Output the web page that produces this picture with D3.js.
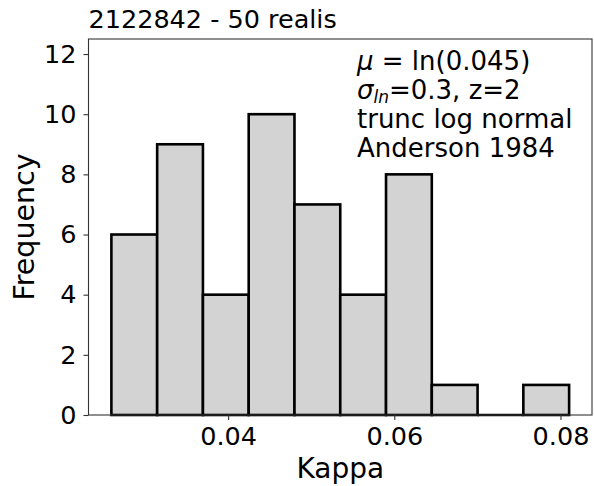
<!DOCTYPE html>
<html>
<head>
<meta charset="utf-8">
<script src="https://cdn.jsdelivr.net/npm/d3@7/dist/d3.min.js"></script>
<style>
  html, body { margin: 0; padding: 0; background: #fff; }
  svg { display: block; font-family: "DejaVu Sans", sans-serif; }
</style>
</head>
<body>
<svg id="chart" width="594" height="486"></svg>
<script>
// ---- data ----
const binStart = 0.02595;
const binWidth = 0.005509;
const counts = [6, 9, 4, 10, 7, 4, 8, 1, 0, 1];
const xTicks = [0.04, 0.06, 0.08];
const yTicks = [0, 2, 4, 6, 8, 10, 12];
const titleText = "2122842 - 50 realis";
const xLabel = "Kappa";
const yLabel = "Frequency";

const bins = counts.map((c, i) => ({
  x0: binStart + i * binWidth,
  x1: binStart + (i + 1) * binWidth,
  count: c
}));

const svg = d3.select("#chart");
const m = { left: 88.5, right: 592, top: 39, bottom: 415 };

const xMin = bins[0].x0, xMax = bins[bins.length - 1].x1;
const pad = (xMax - xMin) * 0.05;
const x = d3.scaleLinear().domain([xMin - pad, xMax + pad]).range([m.left, m.right]);
const y = d3.scaleLinear().domain([0, 12.5]).range([m.bottom, m.top]);

// bars
svg.append("g").selectAll("rect")
  .data(bins.filter(b => b.count > 0))
  .join("rect")
  .attr("x", d => x(d.x0))
  .attr("y", d => y(d.count))
  .attr("width", d => x(d.x1) - x(d.x0))
  .attr("height", d => y(0) - y(d.count))
  .attr("fill", "#d3d3d3")
  .attr("stroke", "#000")
  .attr("stroke-width", 2.6);

// zero-height bin edge (bottom line)
svg.append("g").selectAll("line")
  .data(bins.filter(b => b.count === 0))
  .join("line")
  .attr("x1", d => x(d.x0)).attr("x2", d => x(d.x1))
  .attr("y1", y(0)).attr("y2", y(0))
  .attr("stroke", "#000").attr("stroke-width", 2.6);

// frame
svg.append("rect")
  .attr("x", m.left).attr("y", m.top)
  .attr("width", m.right - m.left).attr("height", m.bottom - m.top)
  .attr("fill", "none").attr("stroke", "#333").attr("stroke-width", 1.1);

// axes
const fs = 25.5;
const xAxis = svg.append("g")
  .attr("transform", `translate(0,${m.bottom})`)
  .call(d3.axisBottom(x).tickValues(xTicks).tickFormat(d3.format(".2f")).tickSizeOuter(0).tickSize(5).tickPadding(7));
const yAxis = svg.append("g")
  .attr("transform", `translate(${m.left},0)`)
  .call(d3.axisLeft(y).tickValues(yTicks).tickFormat(d3.format("d")).tickSizeOuter(0).tickSize(5).tickPadding(7));
[xAxis, yAxis].forEach(a => {
  a.select(".domain").remove();
  a.selectAll("line").attr("stroke", "#333").attr("stroke-width", 1.1);
  a.selectAll("text").attr("fill", "#000").style("font-size", fs + "px")
    .style("font-family", "DejaVu Sans, sans-serif");
});

// title
svg.append("text")
  .attr("x", m.left).attr("y", 28)
  .style("font-size", fs + "px").attr("fill", "#000")
  .text(titleText);

// axis labels
svg.append("text")
  .attr("x", (m.left + m.right) / 2).attr("y", 478)
  .attr("text-anchor", "middle")
  .style("font-size", "28px").attr("fill", "#000")
  .text(xLabel);
svg.append("text")
  .attr("transform", `translate(34,${(m.top + m.bottom) / 2}) rotate(-90)`)
  .attr("text-anchor", "middle")
  .style("font-size", "28.5px").attr("fill", "#000")
  .text(yLabel);

// annotation
const afs = 26;
const ann = svg.append("g").style("font-size", afs + "px").attr("fill", "#000");
const ax = 357, ay0 = 70, lh = 29;
const l1 = ann.append("text").attr("x", ax).attr("y", ay0);
l1.append("tspan").style("font-style", "italic").text("\u03bc");
l1.append("tspan").text(" = ln(0.045)");
const l2 = ann.append("text").attr("x", ax).attr("y", ay0 + lh);
l2.append("tspan").style("font-style", "italic").text("\u03c3");
l2.append("tspan").style("font-style", "italic").style("font-size", "17px").attr("dy", 4).text("ln");
l2.append("tspan").attr("dy", -4).text("=0.3, z=2");
ann.append("text").attr("x", ax).attr("y", ay0 + 2 * lh).text("trunc log normal");
ann.append("text").attr("x", ax).attr("y", ay0 + 3 * lh).text("Anderson 1984");
</script>
</body>
</html>
